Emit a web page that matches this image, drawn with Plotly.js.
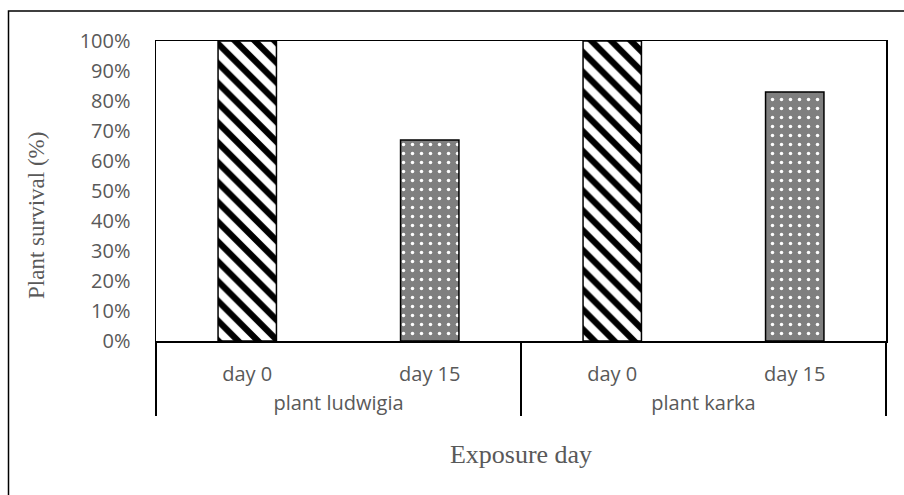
<!DOCTYPE html>
<html><head><meta charset="utf-8">
<script src="https://cdn.plot.ly/plotly-3.0.1.min.js"></script>
<style>html,body{margin:0;padding:0;background:#fff;}#chart{width:904px;height:495px;}</style>
</head><body><div id="chart"></div>
<script>
const plants = ["plant ludwigia", "plant ludwigia", "plant karka", "plant karka"];
const days = ["day 0", "day 15", "day 0", "day 15"];
const survival = [1.00, 0.67, 1.00, 0.83];
const yTitle = "Plant survival (%)";
const xTitle = "Exposure day";

function pick(day) {
  const idx = days.map((d, i) => d === day ? i : -1).filter(i => i >= 0);
  return {
    x: [idx.map(i => plants[i]), idx.map(i => days[i])],
    y: idx.map(i => survival[i])
  };
}

const styles = {
  "day 0": {bg: "#ffffff", fg: "#000000", shape: "\\", size: 14, solidity: 0.45},
  "day 15": {bg: "#7f7f7f", fg: "#ffffff", shape: ".", size: 9, solidity: 0.12}
};

const traces = ["day 0", "day 15"].map(day => {
  const d = pick(day);
  const s = styles[day];
  return {
    type: "bar",
    x: d.x, y: d.y,
    width: 0.32,
    marker: {
      color: s.bg,
      line: {color: "#000", width: 1.5},
      pattern: {shape: s.shape, fillmode: "overlay", fgcolor: s.fg, fgopacity: 1, size: s.size, solidity: s.solidity}
    },
    hoverinfo: "skip"
  };
});

const layout = {
  width: 904, height: 495,
  margin: {l: 156, r: 18, t: 41, b: 154},
  paper_bgcolor: "#fff", plot_bgcolor: "#fff",
  showlegend: false,
  barmode: "overlay",
  font: {family: "Open Sans, Liberation Sans, sans-serif", color: "#595959", size: 20},
  xaxis: {
    type: "multicategory",
    showline: true, linecolor: "#000", linewidth: 1.5, mirror: true,
    showdividers: true, dividercolor: "#000", dividerwidth: 1.5,
    tickson: "labels", ticks: "outside", ticklen: 14, tickcolor: "rgba(0,0,0,0)",
    tickfont: {size: 20, color: "#595959"},
    title: {text: xTitle, font: {family: "Liberation Serif, serif", size: 26, color: "#595959"}, standoff: 30},
    automargin: false
  },
  yaxis: {
    range: [0, 1], dtick: 0.1, tick0: 0, tickformat: ".0%",
    showgrid: false, zeroline: false,
    showline: true, linecolor: "#000", linewidth: 1.5, mirror: true,
    ticks: "", ticklabelstandoff: 20,
    tickfont: {size: 20, color: "#595959"},
    automargin: false
  },
  annotations: [{
    text: yTitle, xref: "paper", yref: "paper",
    x: (37 - 156) / 730, y: (341 - 216) / 300,
    xanchor: "center", yanchor: "middle", textangle: -90, showarrow: false,
    font: {family: "Liberation Serif, serif", size: 23, color: "#595959"}
  }],
  shapes: [{
    type: "rect", xref: "paper", yref: "paper", layer: "above",
    x0: (8.5 - 156) / 730, x1: (920 - 156) / 730,
    y0: (341 - 520) / 300, y1: (341 - 11) / 300,
    line: {color: "#000", width: 1.5}, fillcolor: "rgba(0,0,0,0)"
  }]
};

Plotly.newPlot("chart", traces, layout, {displayModeBar: false, staticPlot: true});
</script></body></html>
